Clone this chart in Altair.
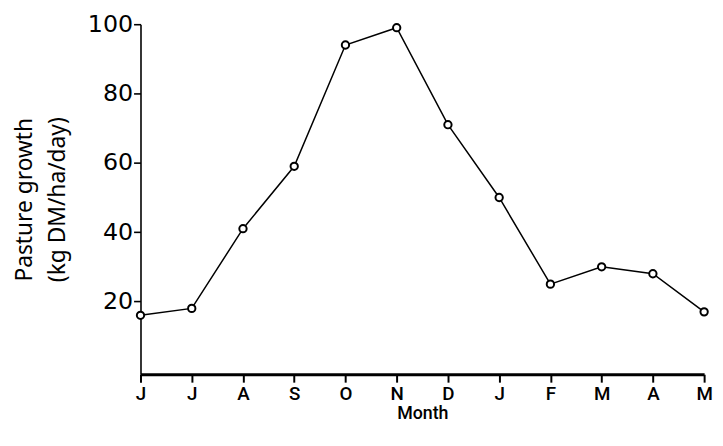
import altair as alt
import pandas as pd

months = ["J", "J", "A", "S", "O", "N", "D", "J", "F", "M", "A", "M"]
growth = [16, 18, 41, 59, 94, 99, 71, 50, 25, 30, 28, 17]
y_ticks = [20, 40, 60, 80, 100]

df = pd.DataFrame({"idx": list(range(len(months))), "month": months, "growth": growth})
label_expr = "[" + ",".join(f"'{m}'" for m in months) + "][datum.value]"

x = alt.X(
    "idx:Q",
    scale=alt.Scale(domain=[0, len(months) - 1], nice=False, zero=False),
    axis=alt.Axis(
        values=list(range(len(months))),
        labelExpr=label_expr,
        title="Month",
        grid=False,
        domainWidth=3,
        domainColor="black",
        tickSize=8,
        tickWidth=2,
        tickColor="black",
        labelFont="Roboto",
        labelFontSize=19,
        labelFontWeight=500,
        labelColor="black",
        labelPadding=3,
        labelFlush=False,
        titleFont="Roboto",
        titleFontSize=18,
        titleFontWeight=500,
        titleColor="black",
        titlePadding=1,
    ),
)

y = alt.Y(
    "growth:Q",
    scale=alt.Scale(domain=[-1, 100], nice=False, zero=False),
    axis=alt.Axis(
        values=y_ticks,
        title=["Pasture growth", "(kg DM/ha/day)"],
        grid=False,
        domainWidth=1.6,
        domainColor="black",
        tickSize=7,
        tickWidth=1.6,
        tickColor="black",
        labelFont="DejaVu Sans",
        labelFontSize=24,
        labelColor="black",
        labelPadding=1,
        labelFlush=False,
        titleFont="Noto Sans",
        titleFontSize=23,
        titleFontWeight="normal",
        titleColor="black",
        titleLineHeight=33,
        titlePadding=18,
    ),
)

base = alt.Chart(df)
line = base.mark_line(color="black", strokeWidth=1.5).encode(x=x, y=y)
points = base.mark_point(
    filled=True, fill="white", stroke="black", strokeWidth=2, size=55, opacity=1
).encode(x=x, y=y)

chart = (
    alt.layer(line, points)
    .properties(
        width=570,
        height=354,
        autosize=alt.AutoSizeParams(type="none"),
        padding={"left": 134, "top": 14, "right": 11, "bottom": 55},
        background="white",
    )
    .configure_view(stroke=None)
)

chart.save("out.html", embed_options={"renderer": "svg", "actions": False})
